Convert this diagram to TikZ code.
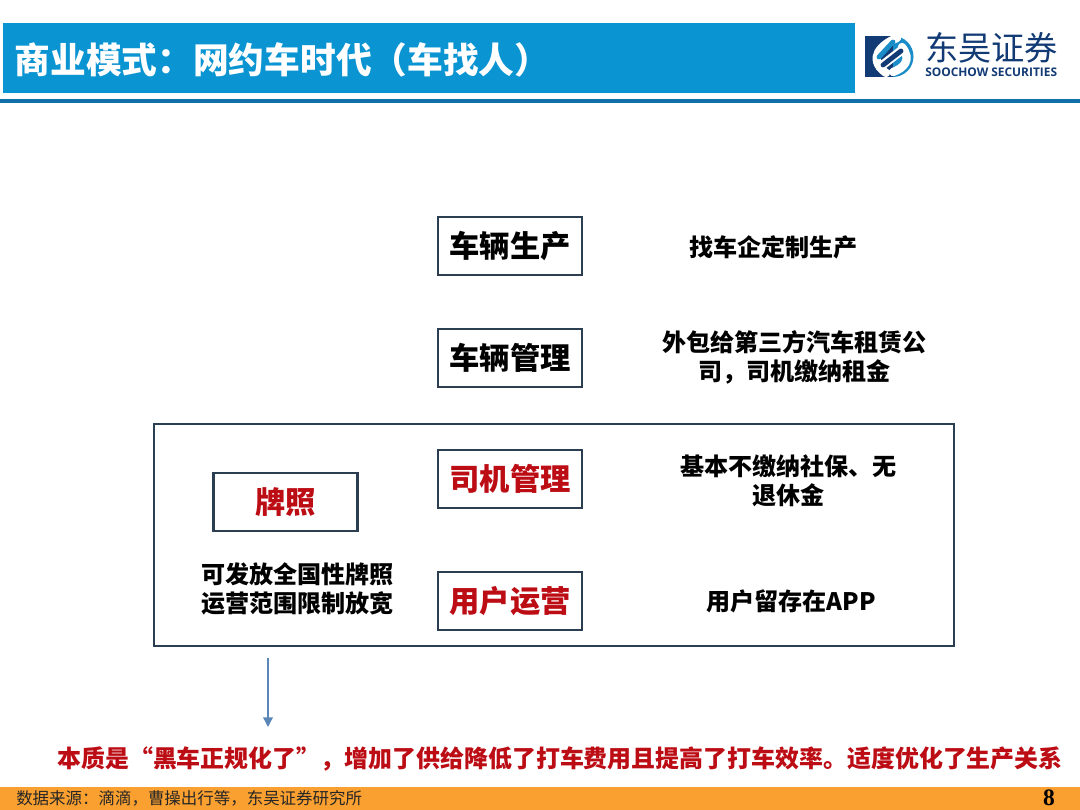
\documentclass[tikz,border=0pt]{standalone}
\usepackage{fontspec}
\setmainfont{Noto Sans CJK SC}
\newfontfamily\footfont{Noto Sans CJK SC}
\newfontfamily\heavyfont{Noto Sans CJK SC Black}
\newfontfamily\numfont{Liberation Serif}
\newfontfamily\logofont{Open Sans}
\usetikzlibrary{arrows.meta}
\definecolor{titleblue}{HTML}{0A94D2}
\definecolor{ruleblue}{HTML}{1070AA}
\definecolor{footorange}{HTML}{F9A030}
\definecolor{boxline}{HTML}{2B3F50}
\definecolor{keyred}{HTML}{BC0C14}
\definecolor{arrowblue}{HTML}{5B86B8}
\definecolor{logonavy}{HTML}{123A75}
\definecolor{logoblue}{HTML}{1A8CC8}
\tikzset{
  stagebox/.style={draw=boxline, line width=2.15pt, fill=white, minimum width=1.44in, minimum height=0.58in, inner sep=0pt, font=\heavyfont\fontsize{21.9}{26}\selectfont},
  sidenote/.style={inner sep=0pt, align=center, font=\fontsize{17.4}{21}\selectfont\bfseries}
}
\begin{document}
\begin{tikzpicture}[x=1in, y=1in]
\path[use as bounding box] (0,0) rectangle (10.8,8.1);
\fill[white] (0,0) rectangle (10.8,8.1);
% header
\fill[titleblue] (0.03,7.17) rectangle (8.55,7.87);
\fill[ruleblue] (0,7.07) rectangle (10.8,7.11);
\node[anchor=west, inner sep=0pt, text=white, font=\heavyfont\fontsize{25.8}{30}\selectfont] (title) at (0.145,7.5) {商业模式：网约车时代（车找人）};
% logo
\fill[logonavy] (8.65,7.74) rectangle (8.93,7.33);
\fill[logoblue] (8.93,7.74) arc (90:-90:0.205) -- cycle;
\draw[white, line width=6pt, line cap=round] (8.97,7.72) .. controls (8.82,7.66) and (8.66,7.52) .. (8.86,7.37);
\draw[logoblue, line width=3.5pt, line cap=round] (8.79,7.53) -- (8.93,7.68);
\draw[white, line width=6pt, line cap=round] (9.02,7.63) .. controls (9.12,7.5) and (9.04,7.42) .. (8.93,7.38);
\draw[white, line width=6.5pt, line cap=round] (8.8,7.43) -- (9.02,7.6);
\draw[logonavy, line width=3.5pt, line cap=round] (8.83,7.45) -- (9.01,7.59);
% wordmark
\node[anchor=west, inner sep=0pt, text=logonavy, font=\fontsize{24}{28}\selectfont] (logocn) at (9.25,7.62) {东吴证券};
\node[anchor=west, inner sep=0pt, text=logonavy, font=\logofont\fontsize{8.6}{10}\selectfont\bfseries] (logoen) at (9.25,7.38) {SOOCHOW SECURITIES};
% outer frame
\draw[boxline, line width=2.15pt] (1.54,1.64) rectangle (9.54,3.86);
% boxes
\node[stagebox] (build) at (5.1,5.64) {车辆生产};
\node[stagebox] (fleet) at (5.1,4.52) {车辆管理};
\node[stagebox, text=keyred] (driver) at (5.1,3.31) {司机管理};
\node[stagebox, text=keyred] (rider) at (5.1,2.09) {用户运营};
\node[stagebox, text=keyred] (licence) at (2.855,3.08) {牌照};
% notes
\node[sidenote] (buildnote) at (7.735,5.63) {找车企定制生产};
\node[sidenote] (fleetnote) at (7.945,4.53) {外包给第三方汽车租赁公\\司，司机缴纳租金};
\node[sidenote] (drivernote) at (7.885,3.29) {基本不缴纳社保、无\\退休金};
\node[sidenote] (ridernote) at (7.91,2.09) {用户留存在APP};
\node[sidenote] (licencenote) at (2.975,2.21) {可发放全国性牌照\\运营范围限制放宽};
% summary
\coordinate (arrowtop) at (2.68,1.52);
\node[anchor=center, inner sep=0pt, text=keyred, font=\fontsize{17.3}{21}\selectfont\bfseries] (summary) at (5.6,0.51) {本质是“黑车正规化了”，增加了供给降低了打车费用且提高了打车效率。适度优化了生产关系};
\coordinate (arrowend) at (2.68,0.83);
\draw[arrowblue, line width=1pt, -{Triangle[length=7pt, width=7pt]}] (arrowtop) -- (arrowend);
% footer
\fill[footorange] (0,0) rectangle (10.8,0.23);
\node[anchor=west, inner sep=0pt, text=black!85, font=\footfont\fontsize{11.9}{14}\selectfont] (source) at (0.16,0.115) {数据来源：滴滴，曹操出行等，东吴证券研究所};
\node[inner sep=0pt, font=\numfont\fontsize{17}{20}\selectfont\bfseries] (page) at (10.49,0.12) {8};
\end{tikzpicture}
\end{document}
